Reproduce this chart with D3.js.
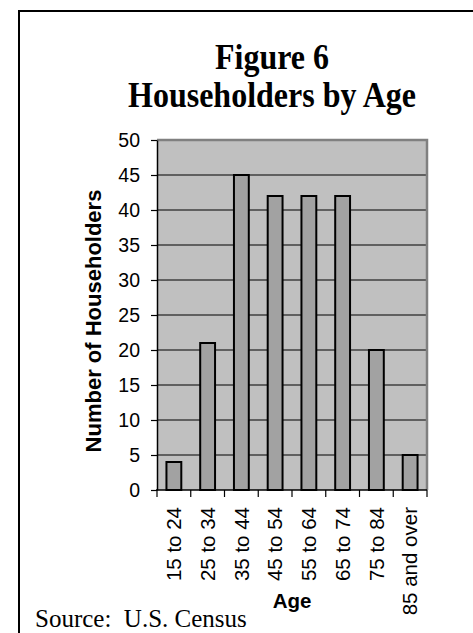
<!DOCTYPE html>
<html>
<head>
<meta charset="utf-8">
<script src="https://cdn.jsdelivr.net/npm/d3@7/dist/d3.min.js"></script>
<style>
  html, body { margin: 0; padding: 0; background: #fff; }
  svg { display: block; }
</style>
</head>
<body>
<svg id="chart" width="473" height="633"></svg>
<script>
// Householders by age group
const categories = ["15 to 24", "25 to 34", "35 to 44", "45 to 54", "55 to 64", "65 to 74", "75 to 84", "85 and over"];
const householders = [4, 21, 45, 42, 42, 42, 20, 5];
const yTicks = [0, 5, 10, 15, 20, 25, 30, 35, 40, 45, 50];
const titleLines = ["Figure 6", "Householders by Age"];

const svg = d3.select("#chart");
const plot = { left: 157, right: 427, top: 140, bottom: 490 };

// outer frame (continues past the right and bottom edges)
svg.append("rect")
  .attr("x", 19).attr("y", 11)
  .attr("width", 500).attr("height", 700)
  .attr("fill", "none").attr("stroke", "#000").attr("stroke-width", 2);

const x = d3.scaleBand()
  .domain(categories)
  .range([plot.left, plot.right])
  .paddingInner(0.56)
  .paddingOuter(0.28);

const y = d3.scaleLinear().domain([0, 50]).range([plot.bottom, plot.top]);

// plot background
svg.append("rect")
  .attr("x", plot.left).attr("y", y(50))
  .attr("width", plot.right - plot.left).attr("height", y(0) - y(50))
  .attr("fill", "#c0c0c0");

// gridlines
svg.append("g")
  .selectAll("line")
  .data(yTicks.filter(v => v > 0 && v < 50))
  .join("line")
  .attr("x1", plot.left).attr("x2", plot.right)
  .attr("y1", d => y(d)).attr("y2", d => y(d))
  .attr("stroke", "#000").attr("stroke-width", 1);

// grey frame on the top and right of the plot area
svg.append("path")
  .attr("d", `M${plot.left},${y(50)}H${plot.right}V${y(0)}`)
  .attr("fill", "none").attr("stroke", "#808080").attr("stroke-width", 2.5);

// bars
svg.append("g")
  .selectAll("rect")
  .data(categories)
  .join("rect")
  .attr("x", d => x(d))
  .attr("y", (d, i) => y(householders[i]))
  .attr("width", x.bandwidth())
  .attr("height", (d, i) => y(0) - y(householders[i]))
  .attr("fill", "#a2a2a2")
  .attr("stroke", "#000")
  .attr("stroke-width", 2);

// y axis
const yAxis = svg.append("g")
  .attr("transform", `translate(${plot.left},0)`)
  .call(d3.axisLeft(y).tickValues(yTicks).tickSize(6).tickPadding(11).tickSizeOuter(0));
yAxis.select(".domain").attr("stroke", "#000").attr("stroke-width", 1.5);
yAxis.selectAll(".tick line").attr("stroke", "#000").attr("stroke-width", 1.2);
yAxis.selectAll(".tick text")
  .attr("font-family", "Liberation Sans, Arial, sans-serif")
  .attr("font-size", 19.5).attr("fill", "#000");

// x axis line and boundary ticks
const step = x.step();
const xAxis = svg.append("g");
xAxis.append("line")
  .attr("x1", plot.left - 1).attr("x2", plot.right)
  .attr("y1", y(0)).attr("y2", y(0))
  .attr("stroke", "#000").attr("stroke-width", 1.5);
xAxis.selectAll("line.tick")
  .data(d3.range(categories.length + 1))
  .join("line")
  .attr("class", "tick")
  .attr("x1", i => plot.left + i * step).attr("x2", i => plot.left + i * step)
  .attr("y1", y(0)).attr("y2", y(0) + 7)
  .attr("stroke", "#000").attr("stroke-width", 1.2);

// x tick labels, rotated
xAxis.selectAll("text.cat")
  .data(categories)
  .join("text")
  .attr("class", "cat")
  .attr("transform", d => `translate(${x(d) + x.bandwidth() / 2 + 7.3},${y(0) + 17}) rotate(-90)`)
  .attr("text-anchor", "end")
  .attr("font-family", "Liberation Sans, Arial, sans-serif")
  .attr("font-size", 20.5)
  .attr("fill", "#000")
  .text(d => d);

// axis titles
svg.append("text")
  .attr("transform", `translate(101,${(plot.top + plot.bottom) / 2 + 6}) rotate(-90)`)
  .attr("text-anchor", "middle")
  .attr("font-family", "Liberation Sans, Arial, sans-serif")
  .attr("font-weight", "bold")
  .attr("font-size", 22)
  .text("Number of Householders");

svg.append("text")
  .attr("x", (plot.left + plot.right) / 2).attr("y", 608)
  .attr("text-anchor", "middle")
  .attr("font-family", "Liberation Sans, Arial, sans-serif")
  .attr("font-weight", "bold")
  .attr("font-size", 20.5)
  .text("Age");

// title
svg.append("g")
  .selectAll("text")
  .data(titleLines)
  .join("text")
  .attr("transform", (d, i) => `translate(272,${69 + i * 38}) scale(1,1.1)`)
  .attr("text-anchor", "middle")
  .attr("font-family", "Liberation Serif, Times New Roman, serif")
  .attr("font-weight", "bold")
  .attr("font-size", 32)
  .text(d => d);

// source note
svg.append("text")
  .attr("x", 35).attr("y", 627)
  .attr("font-family", "Liberation Serif, Times New Roman, serif")
  .attr("font-size", 25)
  .attr("xml:space", "preserve")
  .text("Source:  U.S. Census");
</script>
</body>
</html>
